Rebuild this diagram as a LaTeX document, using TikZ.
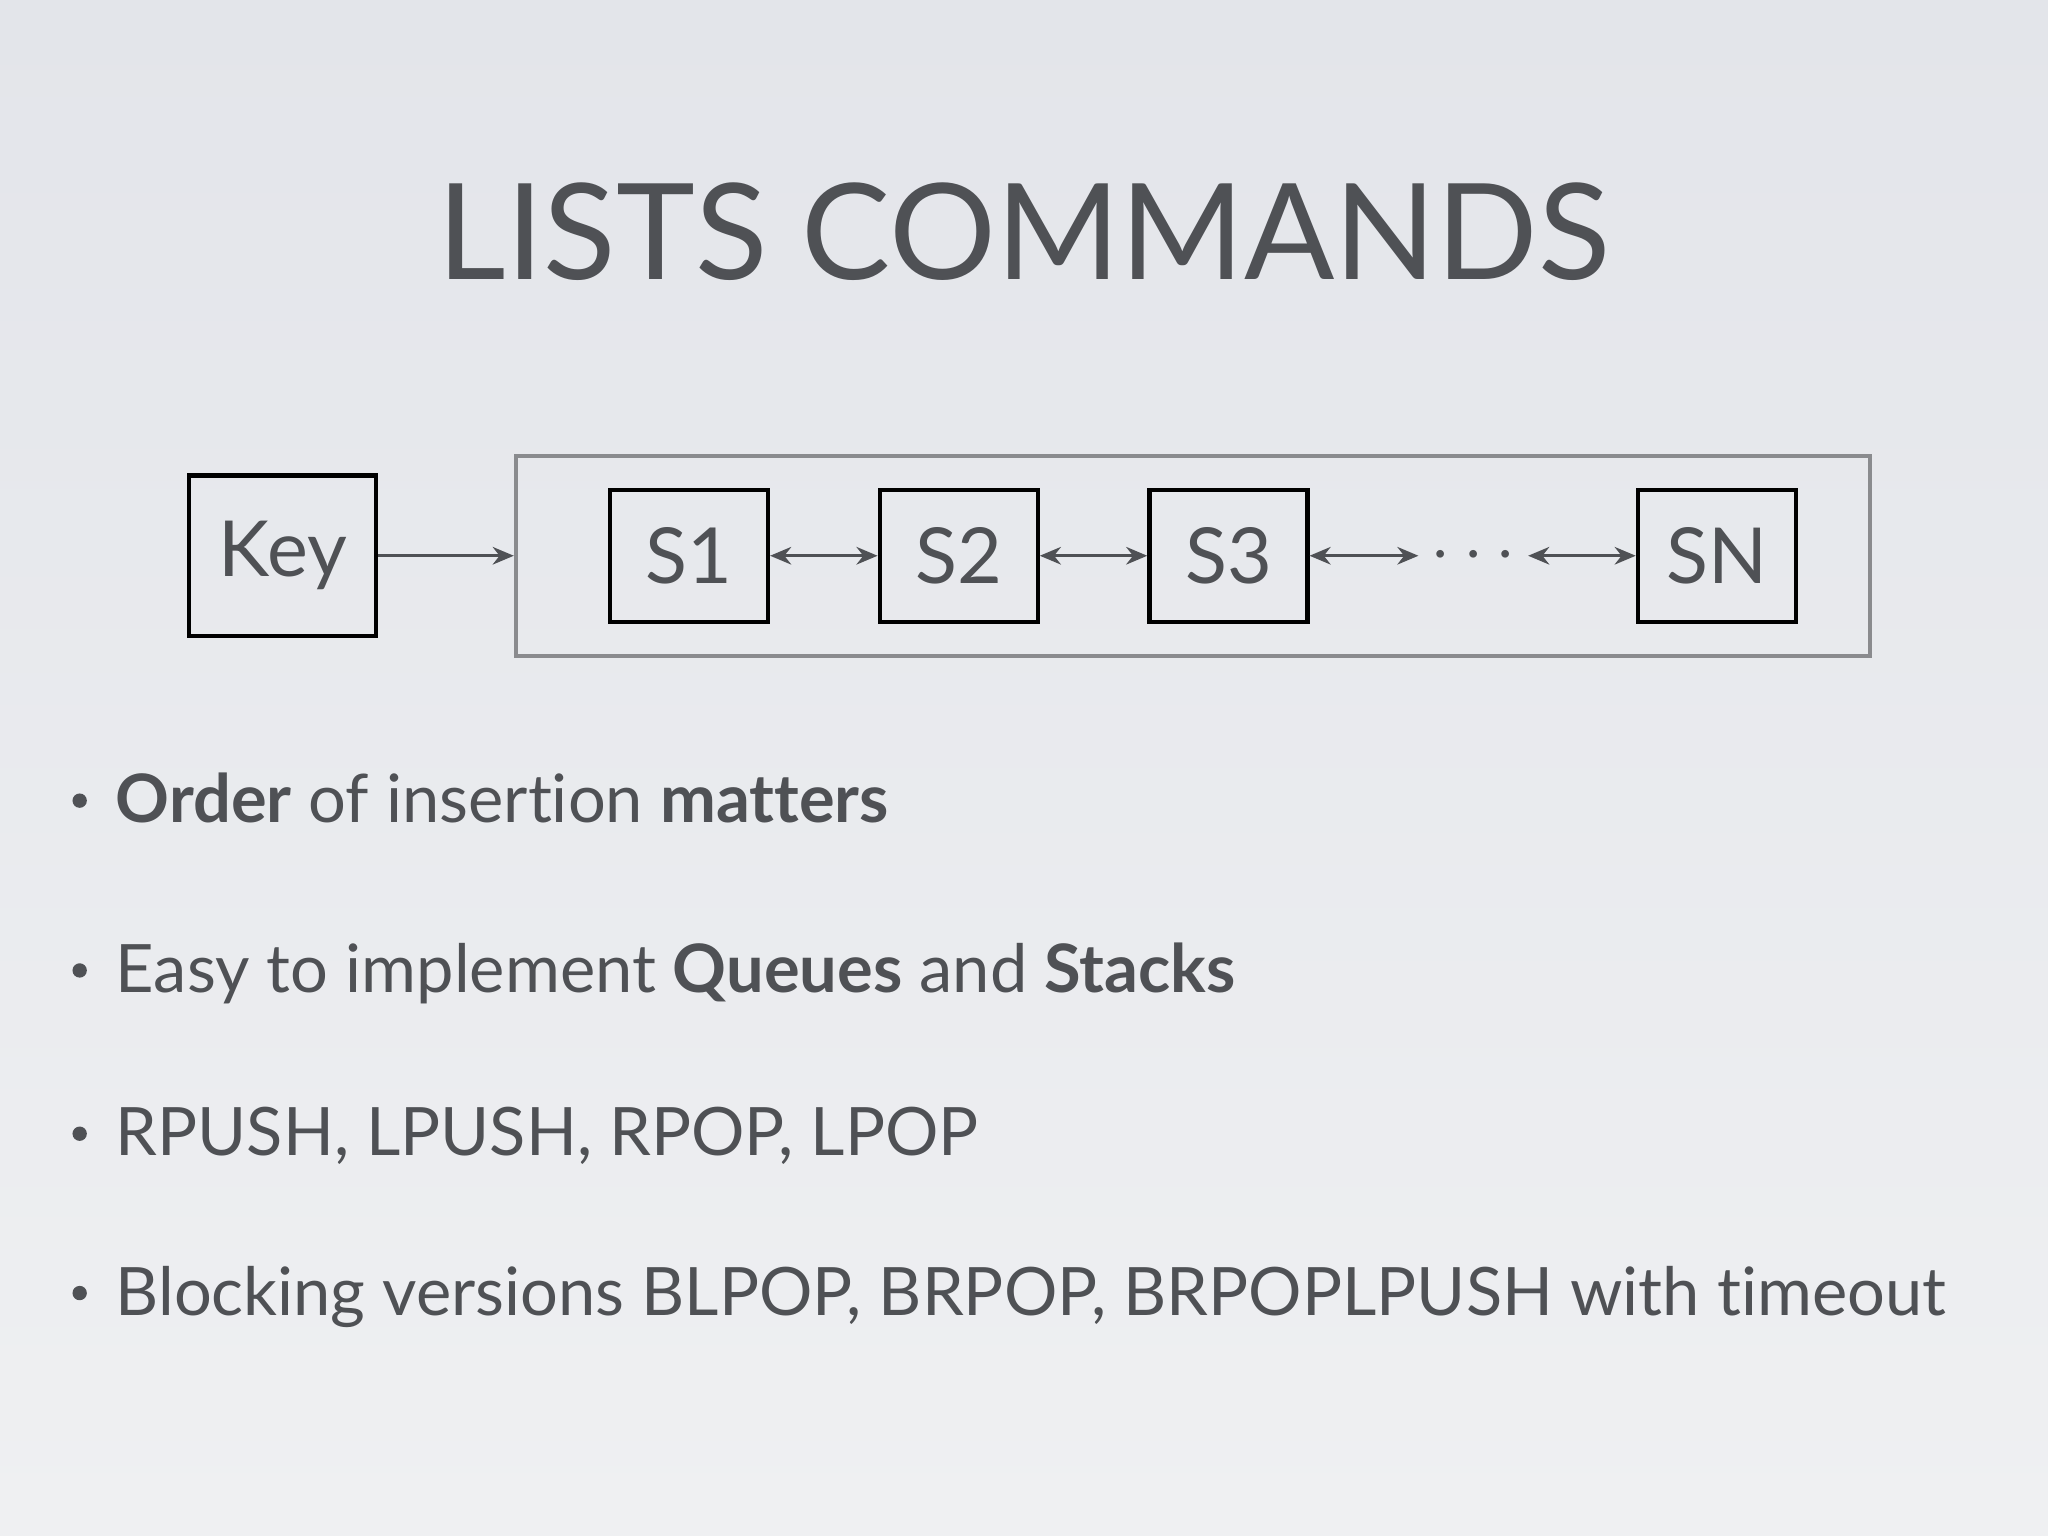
\documentclass[tikz,border=0pt]{standalone}
\usepackage{fontspec}
\setmainfont{Lato}[Ligatures=NoCommon]
\usetikzlibrary{arrows.meta}
\definecolor{ink}{HTML}{4F5155}
\definecolor{frame}{HTML}{8A8B8E}
\definecolor{bgtop}{HTML}{E3E5EA}
\definecolor{bgbot}{HTML}{EFF0F2}
\begin{document}
\begin{tikzpicture}[x=0.01306cm,y=-0.01306cm,
  cell/.style={draw=black,line width=1.2pt,minimum width=121*0.01306cm,minimum height=101*0.01306cm,inner sep=0pt,font=\fontsize{22}{26}\selectfont,text=ink},
  link/.style={draw=ink,line width=0.9pt,{Stealth[length=6pt,width=5pt]}-{Stealth[length=6pt,width=5pt]}},
  bullet/.style={anchor=base west,font=\fontsize{19}{23}\selectfont,text=ink,inner sep=0pt}]
\shade[top color=bgtop, bottom color=bgbot] (0,0) rectangle (1568,1176);
\useasboundingbox (0,0) rectangle (1568,1176);
\node[text=ink,font=\fontsize{38}{44}\selectfont,anchor=base] (title) at (784,214) {LISTS COMMANDS};
\node[cell,minimum width=143*0.01306cm,minimum height=123*0.01306cm] (key) at (216.5,425.5) {Key};
\node[draw=frame,line width=1.2pt,minimum width=1037*0.01306cm,minimum height=153*0.01306cm,inner sep=0pt] (list) at (913.5,425.5) {};
\node[cell] (s1) at (527.5,425.5) {S1};
\node[cell] (s2) at (734,425.5) {S2};
\node[cell] (s3) at (940.5,425.5) {S3};
\node[cell] (sn) at (1314.5,425.5) {SN};
\node[text=ink,font=\fontsize{20}{24}\selectfont,inner sep=0pt] (dots) at (1128,426) {$\cdots$};
\coordinate (dl) at (1086,425.5);
\coordinate (dr) at (1170,425.5);
\draw[draw=ink,line width=0.9pt,-{Stealth[length=6pt,width=5pt]}] (key.east) -- (list.west);
\draw[link] (s1) -- (s2);
\draw[link] (s2) -- (s3);
\draw[link] (s3.east) -- (dl);
\draw[link] (dr) -- (sn.west);
\node[bullet] (b1) at (88,630) {\textbf{Order} of insertion \textbf{matters}};
\node[bullet] (b2) at (88,760) {Easy to implement \textbf{Queues} and \textbf{Stacks}};
\node[bullet] (b3) at (88,885) {RPUSH, LPUSH, RPOP, LPOP};
\node[bullet] (b4) at (88,1007) {Blocking versions BLPOP, BRPOP, BRPOPLPUSH with timeout};
\foreach \y in {630,760,885,1007} \fill[ink] (61,\y-17) circle (5.5);
\end{tikzpicture}
\end{document}
